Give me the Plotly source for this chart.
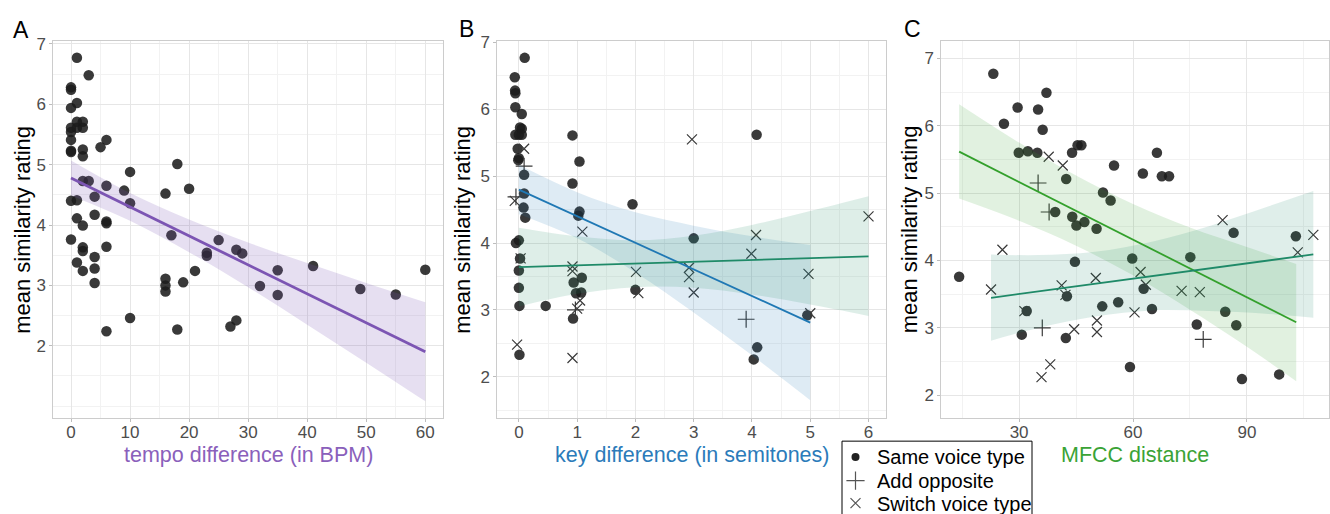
import plotly.graph_objects as go

FIG_W, FIG_H = 1330, 514

# ---------------- Panel A : tempo difference (all "Same voice type") ----------------
a_tempo_diff = [0, 0, 0, 0, 0, 0, 0, 0, 0, 0,
                1, 1, 1, 1, 1, 1, 1,
                2, 2, 2, 2, 2, 2, 2, 2, 2,
                3, 3,
                4, 4, 4, 4, 4,
                5,
                6, 6, 6, 6, 6, 6,
                9,
                10, 10, 10,
                16, 16, 16, 16,
                17,
                18, 18,
                19, 20, 21,
                23, 23,
                25, 27,
                28, 28,
                29, 32,
                35, 35,
                41, 49, 55, 60]
a_rating = [6.28, 6.24, 5.94, 5.61, 5.54, 5.41, 5.23, 5.21, 4.40, 3.76,
            6.77, 6.02, 5.71, 5.61, 4.41, 4.11, 3.38,
            5.71, 5.61, 5.25, 5.14, 4.73, 3.99, 3.63, 3.57, 3.24,
            6.48, 4.73,
            4.47, 4.17, 3.47, 3.28, 3.04,
            5.29,
            5.41, 4.65, 4.06, 4.03, 3.64, 2.24,
            4.57,
            4.88, 4.36, 2.46,
            4.52, 3.11, 3.00, 2.90,
            3.83,
            5.01, 2.27,
            3.05, 4.60, 3.24,
            3.54, 3.49,
            3.75, 2.32,
            3.59, 2.42,
            3.53, 2.99,
            3.25, 2.84,
            3.32, 2.94, 2.85, 3.26]

a_fit_x = [0, 10, 20, 30, 40, 50, 60]
a_fit_y = [4.78, 4.30, 3.82, 3.34, 2.86, 2.38, 1.90]
a_fit_lo = [4.49, 4.07, 3.55, 2.97, 2.35, 1.72, 1.08]
a_fit_hi = [5.07, 4.53, 4.09, 3.71, 3.37, 3.04, 2.72]

# ---------------- Panel B : key difference ----------------
b_same_x = [0.10, -0.07, -0.065, -0.06, -0.06, 0.05, 0.02, 0.05, -0.06, 0.00, 0.05,
            -0.02, 0.00, -0.01, 0.09, 0.09, 0.08, 0.11, 0.00, -0.05, 0.02, 0.00,
            0.00, 0.01, 0.46, 0.01,
            1.04, 0.92, 0.92, 1.04, 1.02, 1.95, 3.00, 4.08, 0.94, 1.08, 0.98,
            1.07, 0.93, 2.00, 4.95, 4.09, 4.03]
b_same_y = [6.77, 6.48, 6.28, 6.24, 6.03, 5.93, 5.73, 5.71, 5.62, 5.62, 5.62,
            5.41, 5.27, 5.24, 5.02, 4.74, 4.53, 4.38, 4.04, 4.00, 3.77, 3.59,
            3.33, 3.06, 3.06, 2.33,
            5.22, 5.61, 4.89, 4.47, 4.41, 4.58, 4.07, 5.62, 3.41, 3.48, 3.25,
            3.26, 2.87, 3.30, 2.92, 2.44, 2.26]
b_add_x = [0.09, -0.05, 0.97, 3.90]
b_add_y = [5.15, 4.69, 3.00, 2.86]
b_switch_x = [0.09, -0.07, 0.03, -0.03, 1.09, 0.92, 0.92, 0.92, 1.05, 1.00, 2.01,
              2.05, 2.92, 2.92, 3.00, 2.97, 3.99, 4.07, 4.97, 5.00, 6.00]
b_switch_y = [5.41, 4.63, 3.77, 2.48, 4.17, 3.65, 3.58, 2.28, 3.14, 3.02, 3.57,
              3.25, 3.63, 3.49, 3.26, 5.55, 3.84, 4.12, 3.54, 2.95, 4.40]

b_fit_same_x = [0, 1, 2, 3, 4, 5]
b_fit_same_y = [4.80, 4.40, 4.00, 3.61, 3.21, 2.81]
b_fit_same_lo = [4.43, 4.07, 3.56, 2.96, 2.32, 1.65]
b_fit_same_hi = [5.17, 4.76, 4.46, 4.26, 4.10, 3.97]

b_fit_switch_x = [0, 1, 2, 3, 4, 5, 6]
b_fit_switch_y = [3.64, 3.67, 3.69, 3.72, 3.75, 3.78, 3.80]
b_fit_switch_lo = [3.05, 3.24, 3.34, 3.33, 3.23, 3.08, 2.91]
b_fit_switch_hi = [4.23, 4.10, 4.04, 4.11, 4.27, 4.48, 4.70]

# ---------------- Panel C : MFCC distance ----------------
c_same_x = [23.2, 37.2, 29.6, 35.0, 26.0, 36.2, 29.9, 32.3, 34.8, 43.95, 45.4, 46.4,
            55.0, 42.4, 62.6, 66.3, 67.6, 69.5, 52.1, 54.1, 39.5, 44.0, 45.1, 47.2,
            50.4, 86.5, 102.9, 14.2, 44.7, 59.8, 75.1, 42.6, 62.8, 32.0, 51.9, 56.1,
            65.0, 84.3, 30.7, 42.3, 76.8, 87.2, 59.2, 88.7, 98.5]
c_same_y = [6.77, 6.49, 6.27, 6.24, 6.03, 5.94, 5.60, 5.62, 5.60, 5.60, 5.71, 5.71,
            5.41, 5.21, 5.29, 5.60, 5.25, 5.25, 5.01, 4.89, 4.72, 4.65, 4.52, 4.57,
            4.47, 4.41, 4.36, 3.76, 3.98, 4.03, 4.05, 3.47, 3.58, 3.25, 3.32, 3.38,
            3.28, 3.24, 2.90, 2.85, 3.05, 3.04, 2.42, 2.24, 2.31]
c_add_x = [35.0, 37.9, 36.1, 78.5]
c_add_y = [5.15, 4.72, 3.00, 2.83]
c_switch_x = [37.8, 41.5, 83.6, 107.5, 103.4, 25.6, 22.6, 41.2, 42.2, 50.2, 62.0,
              63.4, 72.8, 77.6, 31.4, 60.4, 50.5, 50.5, 44.5, 38.2, 35.9]
c_switch_y = [5.54, 5.41, 4.60, 4.38, 4.12, 4.16, 3.57, 3.63, 3.49, 3.74, 3.83,
              3.64, 3.55, 3.53, 3.25, 3.23, 3.11, 2.94, 2.98, 2.46, 2.27]

c_fit_same_x = [14.2, 30, 45, 60, 75, 90, 103]
c_fit_same_y = [5.615, 5.165, 4.737, 4.310, 3.882, 3.455, 3.084]
c_fit_same_lo = [4.92, 4.59, 4.22, 3.78, 3.27, 2.72, 2.21]
c_fit_same_hi = [6.32, 5.75, 5.26, 4.84, 4.49, 4.20, 3.95]

c_fit_switch_x = [22.6, 35, 50, 65, 80, 95, 107.5]
c_fit_switch_y = [3.447, 3.541, 3.654, 3.768, 3.882, 3.995, 4.09]
c_fit_switch_lo = [2.81, 3.00, 3.17, 3.26, 3.25, 3.21, 3.15]
c_fit_switch_hi = [4.09, 4.08, 4.13, 4.28, 4.51, 4.79, 5.03]

# ---------------- tick / label text ----------------
y_ticks = [2, 3, 4, 5, 6, 7]
legend_labels = ["Same voice type", "Add opposite", "Switch voice type"]
panel_letters = ["A", "B", "C"]
x_titles = ["tempo difference (in BPM)", "key difference (in semitones)", "MFCC distance"]
y_title = "mean similarity rating"

# ---------------- styles ----------------
FONT = "Liberation Sans, Arial, Helvetica, sans-serif"
DOT_COLOR = "rgba(28,28,28,0.87)"
MARK_COLOR = "#3a3a3a"
PURPLE = "#7c55b3"
PURPLE_TXT = "#8a60bb"
BLUE = "#1f78b4"
BLUE_TXT = "#2b7bba"
TEAL = "#1f8a68"
GREEN = "#33a02c"
GREEN_TXT = "#3aa336"


def px_x(p):
    return p / FIG_W


def px_y(p):
    return 1 - p / FIG_H


fig = go.Figure()


def add_points(xs, ys, kind, xa, ya):
    if kind == "same":
        marker = dict(symbol="circle", size=10.5, color=DOT_COLOR, line=dict(width=0))
    elif kind == "add":
        marker = dict(symbol="cross-thin", size=12, color=MARK_COLOR,
                      line=dict(width=1.2, color=MARK_COLOR))
    else:
        marker = dict(symbol="x-thin", size=10, color=MARK_COLOR,
                      line=dict(width=1.2, color=MARK_COLOR))
    fig.add_trace(go.Scatter(x=xs, y=ys, mode="markers", marker=marker,
                             xaxis=xa, yaxis=ya, showlegend=False, hoverinfo="skip"))


def add_band(xs, lo, hi, fillcolor, xa, ya):
    fig.add_trace(go.Scatter(x=xs, y=lo, mode="lines", line=dict(width=0, shape="spline"),
                             xaxis=xa, yaxis=ya, showlegend=False, hoverinfo="skip"))
    fig.add_trace(go.Scatter(x=xs, y=hi, mode="lines", line=dict(width=0, shape="spline"),
                             fill="tonexty", fillcolor=fillcolor,
                             xaxis=xa, yaxis=ya, showlegend=False, hoverinfo="skip"))


def add_line(xs, ys, color, width, xa, ya):
    fig.add_trace(go.Scatter(x=[xs[0], xs[-1]], y=[ys[0], ys[-1]], mode="lines",
                             line=dict(color=color, width=width),
                             xaxis=xa, yaxis=ya, showlegend=False, hoverinfo="skip"))


# Panel A
add_points(a_tempo_diff, a_rating, "same", "x", "y")
add_band(a_fit_x, a_fit_lo, a_fit_hi, "rgba(124,85,179,0.19)", "x", "y")
add_line(a_fit_x, a_fit_y, PURPLE, 2.8, "x", "y")

# Panel B
add_points(b_same_x, b_same_y, "same", "x2", "y2")
add_points(b_add_x, b_add_y, "add", "x2", "y2")
add_points(b_switch_x, b_switch_y, "switch", "x2", "y2")
add_band(b_fit_same_x, b_fit_same_lo, b_fit_same_hi, "rgba(31,120,180,0.15)", "x2", "y2")
add_band(b_fit_switch_x, b_fit_switch_lo, b_fit_switch_hi, "rgba(31,138,104,0.15)", "x2", "y2")
add_line(b_fit_same_x, b_fit_same_y, BLUE, 1.8, "x2", "y2")
add_line(b_fit_switch_x, b_fit_switch_y, TEAL, 1.8, "x2", "y2")

# Panel C
add_points(c_same_x, c_same_y, "same", "x3", "y3")
add_points(c_add_x, c_add_y, "add", "x3", "y3")
add_points(c_switch_x, c_switch_y, "switch", "x3", "y3")
add_band(c_fit_same_x, c_fit_same_lo, c_fit_same_hi, "rgba(51,160,44,0.15)", "x3", "y3")
add_band(c_fit_switch_x, c_fit_switch_lo, c_fit_switch_hi, "rgba(31,138,104,0.14)", "x3", "y3")
add_line(c_fit_same_x, c_fit_same_y, GREEN, 1.8, "x3", "y3")
add_line(c_fit_switch_x, c_fit_switch_y, TEAL, 1.8, "x3", "y3")

# Legend keys on an invisible full-figure overlay axis (pixel units)
for sym, size, col, lw, ky in [("circle", 8, "#222222", 0, 456),
                               ("cross-thin", 13, "#555555", 1.2, 480),
                               ("x-thin", 10, "#555555", 1.2, 503)]:
    fig.add_trace(go.Scatter(
        x=[855.5], y=[ky], mode="markers",
        marker=dict(symbol=sym, size=size, color=col, line=dict(width=lw, color=col)),
        xaxis="x4", yaxis="y4", showlegend=False, hoverinfo="skip", cliponaxis=False))

# ---------------- axes ----------------
plot_top, plot_bot = 34, 416.7
panels = [
    dict(x0=53.3, x1=443.0, xr=[-3, 63], yr=[0.80, 7.04], t0=0, dt=10, mdt=5),
    dict(x0=497.3, x1=886.0, xr=[-0.37, 6.30], yr=[1.38, 7.015], t0=0, dt=1, mdt=0.5),
    dict(x0=941.3, x1=1328.5, xr=[9.5, 111.5], yr=[1.66, 7.25], t0=0, dt=30, mdt=15),
]

axis_common = dict(
    showline=True, linecolor="#cccccc", linewidth=1, mirror=True,
    ticks="outside", ticklen=3, tickwidth=1, tickcolor="#bdbdbd",
    showgrid=True, gridcolor="#e6e6e6", gridwidth=1, zeroline=False,
    tickfont=dict(family=FONT, size=17, color="#4d4d4d"),
)

layout_axes = {}
for i, p in enumerate(panels):
    sfx = "" if i == 0 else str(i + 1)
    layout_axes["xaxis" + sfx] = dict(
        axis_common, domain=[px_x(p["x0"]), px_x(p["x1"])], range=p["xr"],
        tickmode="linear", tick0=p["t0"], dtick=p["dt"], anchor="y" + sfx,
        ticklabelstandoff=-5,
        minor=dict(tick0=0, dtick=p["mdt"], showgrid=True,
                   gridcolor="#f2f2f2", gridwidth=1),
    )
    layout_axes["yaxis" + sfx] = dict(
        axis_common, domain=[px_y(plot_bot), px_y(plot_top)], range=p["yr"],
        tickmode="array", tickvals=y_ticks, anchor="x" + sfx,
        minor=dict(tick0=0, dtick=0.5, showgrid=True,
                   gridcolor="#f2f2f2", gridwidth=1),
    )
layout_axes["xaxis4"] = dict(domain=[0, 1], range=[0, FIG_W], visible=False,
                             anchor="y4", fixedrange=True)
layout_axes["yaxis4"] = dict(domain=[0, 1], range=[FIG_H, 0], visible=False,
                             anchor="x4", fixedrange=True)

# ---------------- annotations ----------------
ann = []
letter_pos = [(21, 22.0), (466, 21.5), (913, 21.5)]
for letter, (lx, ly) in zip(panel_letters, letter_pos):
    ann.append(dict(text=letter, x=px_x(lx), y=px_y(ly), xref="paper", yref="paper",
                    xanchor="center", yanchor="middle", showarrow=False,
                    font=dict(family=FONT, size=23, color="black")))

title_colors = [PURPLE_TXT, BLUE_TXT, GREEN_TXT]
ytitle_x = [23, 463, 909.5]
for p, t, c, yx in zip(panels, x_titles, title_colors, ytitle_x):
    ann.append(dict(text=t, x=px_x((p["x0"] + p["x1"]) / 2), y=px_y(454),
                    xref="paper", yref="paper", xanchor="center", yanchor="middle",
                    showarrow=False, font=dict(family=FONT, size=21.5, color=c)))
    ann.append(dict(text=y_title, x=px_x(yx), y=px_y((plot_top + plot_bot) / 2),
                    xref="paper", yref="paper", xanchor="center", yanchor="middle",
                    textangle=-90, showarrow=False,
                    font=dict(family=FONT, size=22, color="black")))

for lab, ly in zip(legend_labels, [456, 480, 503.5]):
    ann.append(dict(text=lab, x=px_x(875), y=px_y(ly), xref="paper", yref="paper",
                    xanchor="left", yanchor="middle", showarrow=False,
                    font=dict(family=FONT, size=20, color="black")))

shapes = [dict(type="rect", xref="paper", yref="paper",
               x0=px_x(842), x1=px_x(1032), y0=px_y(525), y1=px_y(440),
               line=dict(color="black", width=1), fillcolor="rgba(0,0,0,0)",
               layer="above")]

fig.update_layout(
    width=FIG_W, height=FIG_H, autosize=False,
    margin=dict(l=0, r=0, t=0, b=0, pad=0),
    paper_bgcolor="white", plot_bgcolor="rgba(0,0,0,0)",
    font=dict(family=FONT, color="black"),
    showlegend=False,
    annotations=ann, shapes=shapes,
    **layout_axes,
)

fig.write_html("out.html")
